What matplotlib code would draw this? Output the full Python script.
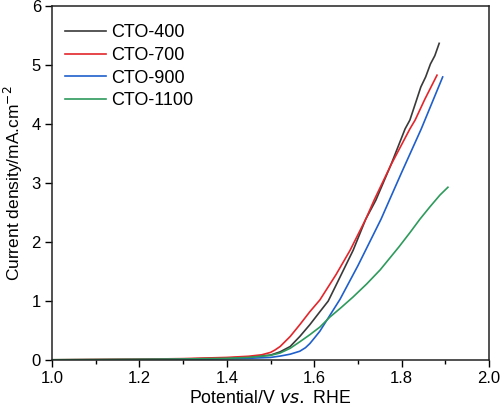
import matplotlib
matplotlib.use("Agg")
import matplotlib.pyplot as plt
from matplotlib.ticker import MultipleLocator, FormatStrFormatter

plt.rcParams['font.family'] = ['Liberation Sans', 'DejaVu Sans']

labels = ["CTO-400", "CTO-700", "CTO-900", "CTO-1100"]
colors = ["#3a3a3a", "#e3262b", "#1f5fcc", "#2e9a5c"]

v400 = [1.00, 1.10, 1.20, 1.30, 1.40, 1.45, 1.50, 1.522, 1.545, 1.567, 1.59, 1.613, 1.632, 1.65, 1.689, 1.718, 1.741, 1.775, 1.808, 1.819, 1.832, 1.844, 1.855, 1.866, 1.876, 1.886]
j400 = [0.004, 0.008, 0.012, 0.018, 0.035, 0.05, 0.085, 0.14, 0.23, 0.40, 0.60, 0.82, 1.00, 1.27, 1.86, 2.39, 2.71, 3.30, 3.92, 4.07, 4.36, 4.63, 4.80, 5.02, 5.16, 5.37]

v700 = [1.00, 1.10, 1.20, 1.30, 1.40, 1.45, 1.48, 1.50, 1.51, 1.522, 1.545, 1.567, 1.59, 1.613, 1.65, 1.682, 1.718, 1.737, 1.775, 1.819, 1.831, 1.853, 1.881]
j700 = [0.005, 0.01, 0.015, 0.025, 0.045, 0.065, 0.09, 0.13, 0.17, 0.23, 0.40, 0.60, 0.82, 1.02, 1.45, 1.86, 2.39, 2.71, 3.30, 3.92, 4.07, 4.42, 4.83]

v900 = [1.00, 1.10, 1.20, 1.30, 1.40, 1.45, 1.50, 1.522, 1.545, 1.567, 1.58, 1.59, 1.60, 1.613, 1.636, 1.659, 1.70, 1.753, 1.772, 1.80, 1.845, 1.894]
j900 = [0.002, 0.004, 0.007, 0.012, 0.022, 0.03, 0.045, 0.068, 0.10, 0.15, 0.21, 0.28, 0.37, 0.49, 0.76, 1.03, 1.60, 2.39, 2.71, 3.18, 3.92, 4.80]

v1100 = [1.00, 1.10, 1.20, 1.30, 1.40, 1.45, 1.50, 1.522, 1.545, 1.567, 1.59, 1.613, 1.636, 1.66, 1.689, 1.72, 1.751, 1.794, 1.82, 1.842, 1.865, 1.888, 1.906]
j1100 = [0.006, 0.009, 0.013, 0.018, 0.03, 0.045, 0.08, 0.12, 0.20, 0.31, 0.43, 0.56, 0.73, 0.88, 1.07, 1.29, 1.53, 1.92, 2.17, 2.39, 2.60, 2.80, 2.93]

series_v = [v400, v700, v900, v1100]
series_j = [j400, j700, j900, j1100]

fig = plt.figure(figsize=(5.0, 4.12), dpi=100)
ax = fig.add_axes([0.104, 0.126, 0.874, 0.859])

for v, j, lab, c in zip(series_v, series_j, labels, colors):
    ax.plot(v, j, color=c, lw=1.2, label=lab)

ax.set_xlim(1.0, 2.0)
ax.set_ylim(0, 6)
ax.xaxis.set_major_locator(MultipleLocator(0.2))
ax.xaxis.set_minor_locator(MultipleLocator(0.1))
ax.yaxis.set_major_locator(MultipleLocator(1))
ax.tick_params(which='both', direction='out', top=False, right=False, labelsize=12, width=1.0)
ax.tick_params(which='major', length=5, pad=3)
ax.tick_params(which='minor', length=3)
ax.xaxis.set_major_formatter(FormatStrFormatter('%.1f'))
for s in ax.spines.values():
    s.set_linewidth(1.1)
    s.set_color('#222222')

ax.set_xlabel(r"Potential/V $\it{vs.}$ RHE", fontsize=12.7, labelpad=3)
ax.set_ylabel(r"Current density/mA.cm$^{-2}$", fontsize=12.5, labelpad=5)

ax.legend(loc='upper left', bbox_to_anchor=(0.0, 0.985), frameon=False, fontsize=13,
          handlelength=2.28, labelspacing=0.32, borderaxespad=0.3, borderpad=0.4,
          handletextpad=0.3)

fig.savefig("out.png", dpi=100)
